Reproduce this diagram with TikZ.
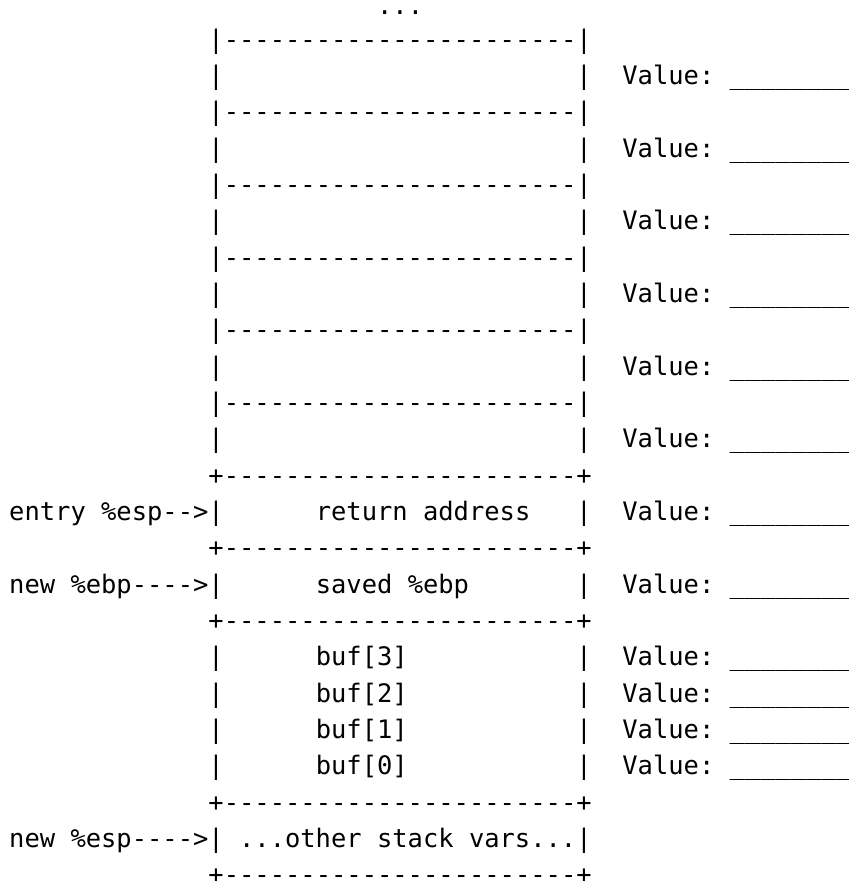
\documentclass[tikz,border=0pt]{standalone}
\usepackage{fontspec}
\setmonofont{DejaVu Sans Mono}
\tikzset{ascii/.style={anchor=base west, inner sep=0pt, font=\ttfamily\frenchspacing\fontsize{25.46}{36}\selectfont}}
\begin{document}
\begin{tikzpicture}[x=15.33pt, y=-36.33pt]
        \useasboundingbox (-0.587,-0.3267) rectangle ++(55.32,24.25);

        \node[ascii] at (24,0.08) (more) {...};
        \foreach \r in {1,3,5,7,9,11}
            \node[ascii] at (13,\r) (sep\r) {|-----------------------|};
        \foreach \r in {2,4,6,8,10,12} {
            \node[ascii] at (13,\r) (left\r) {|};
            \node[ascii] at (37,\r) (right\r) {|};
        }
        \foreach \r in {13,15,17,22,24}
            \node[ascii] at (13,\r) (edge\r) {+-----------------------+};

        \node[ascii] at (0,14) (entry) {entry \%esp-->|};
        \node[ascii] at (20,14) (ret) {return address};
        \node[ascii] at (37,14) (right14) {|};

        \node[ascii] at (0,16) (ebp) {new \%ebp---->|};
        \node[ascii] at (20,16) (saved) {saved \%ebp};
        \node[ascii] at (37,16) (right16) {|};

        \foreach \r/\k in {18/3,19/2,20/1,21/0} {
            \node[ascii] at (13,\r) (left\r) {|};
            \node[ascii] at (20,\r) (buf\k) {buf[\k]};
            \node[ascii] at (37,\r) (right\r) {|};
        }

        \node[ascii] at (0,23) (esp) {new \%esp---->| ...other stack vars...|};

        % value slots
        \foreach \r in {2,4,6,8,10,12,14,16,18,19,20,21}
            \node[ascii] at (40,\r) (val\r) {Value: \_\_\_\_\_\_\_\_};
\end{tikzpicture}
\end{document}
